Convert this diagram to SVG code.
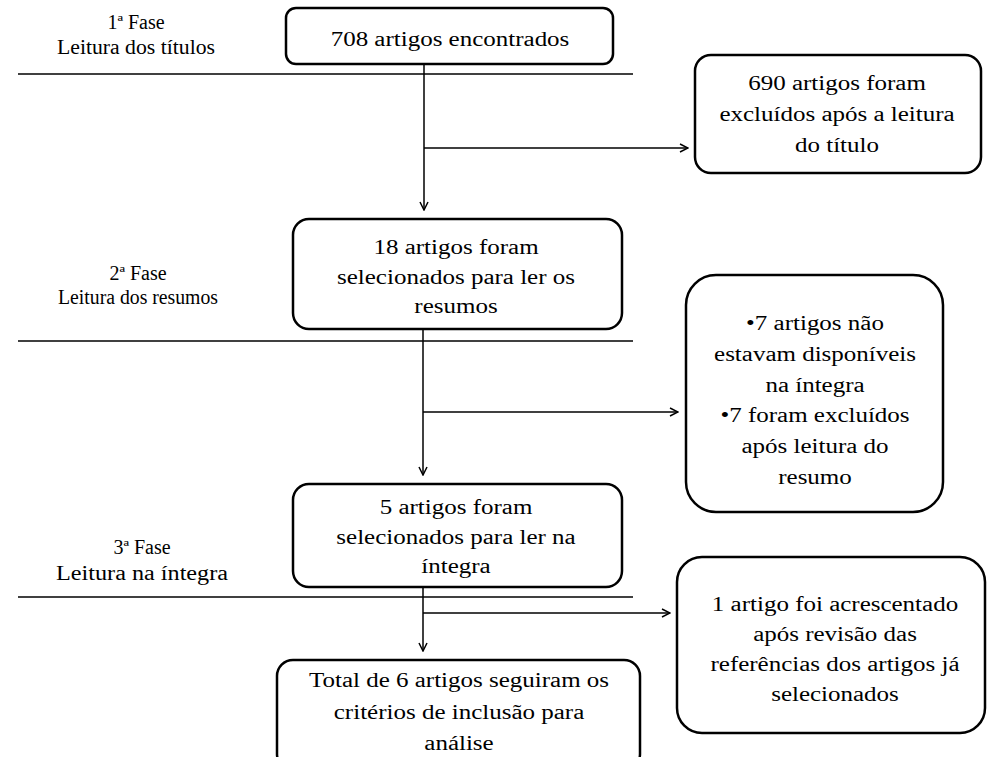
<svg xmlns="http://www.w3.org/2000/svg" width="988" height="757" viewBox="0 0 988 757">
<style>
  .box { fill: #ffffff; stroke: #000000; stroke-width: 2.5; }
  .t { font-family: "Liberation Serif", "Times New Roman", "DejaVu Serif", serif; font-size: 20px; fill: #000000; text-anchor: middle; }
  .ph { font-family: "Liberation Serif", "Times New Roman", "DejaVu Serif", serif; font-size: 20px; fill: #000000; text-anchor: middle; }
  .ln { stroke: #000000; stroke-width: 1.5; fill: none; }
</style>
<defs>
  <marker id="arr" viewBox="0 0 10 10" refX="9" refY="5" markerWidth="10" markerHeight="10" markerUnits="userSpaceOnUse" orient="auto">
    <path d="M1,1 L9,5 L1,9" fill="none" stroke="#000000" stroke-width="1.5"/>
  </marker>
</defs>
<rect width="988" height="757" fill="#ffffff"/>

<g id="phases">
  <text class="ph" x="136" y="29">1ª Fase</text>
  <text class="ph" x="136" y="54" textLength="158" lengthAdjust="spacingAndGlyphs">Leitura dos títulos</text>
  <text class="ph" x="138" y="280">2ª Fase</text>
  <text class="ph" x="138" y="304" textLength="160" lengthAdjust="spacingAndGlyphs">Leitura dos resumos</text>
  <text class="ph" x="142" y="554">3ª Fase</text>
  <text class="ph" x="142" y="580" textLength="172" lengthAdjust="spacingAndGlyphs">Leitura na íntegra</text>
  <line class="ln" x1="18" y1="74" x2="633" y2="74"/>
  <line class="ln" x1="18" y1="341" x2="633" y2="341"/>
  <line class="ln" x1="18" y1="597" x2="633" y2="597"/>
</g>

<g id="connectors">
  <line class="ln" x1="424" y1="64" x2="424" y2="210" marker-end="url(#arr)"/>
  <line class="ln" x1="424" y1="148" x2="688" y2="148" marker-end="url(#arr)"/>
  <line class="ln" x1="423" y1="329" x2="423" y2="475" marker-end="url(#arr)"/>
  <line class="ln" x1="423" y1="412" x2="678" y2="412" marker-end="url(#arr)"/>
  <line class="ln" x1="423" y1="587" x2="423" y2="651" marker-end="url(#arr)"/>
  <line class="ln" x1="423" y1="613" x2="670" y2="613" marker-end="url(#arr)"/>
</g>

<g id="n1">
  <rect class="box" x="286" y="8" width="327" height="56" rx="10"/>
  <text class="t" transform="translate(450 0) scale(1.25 1)" x="0" y="46">708 artigos encontrados</text>
</g>

<g id="n2">
  <rect class="box" x="695" y="55" width="286" height="118" rx="16"/>
  <g transform="translate(837 0) scale(1.25 1)">
    <text class="t" x="0" y="90">690 artigos foram</text>
    <text class="t" x="0" y="121">excluídos após a leitura</text>
    <text class="t" x="0" y="152">do título</text>
  </g>
</g>

<g id="n3">
  <rect class="box" x="293" y="219" width="329" height="110" rx="16"/>
  <g transform="translate(456 0) scale(1.25 1)">
    <text class="t" x="0" y="254">18 artigos foram</text>
    <text class="t" x="0" y="284">selecionados  para ler os</text>
    <text class="t" x="0" y="313">resumos</text>
  </g>
</g>

<g id="n4">
  <rect class="box" x="686" y="275" width="257" height="237" rx="30"/>
  <g transform="translate(815 0) scale(1.25 1)">
    <text class="t" x="0" y="330">•7 artigos não</text>
    <text class="t" x="0" y="361">estavam disponíveis</text>
    <text class="t" x="0" y="392">na íntegra</text>
    <text class="t" x="0" y="422">•7 foram excluídos</text>
    <text class="t" x="0" y="453">após leitura do</text>
    <text class="t" x="0" y="484">resumo</text>
  </g>
</g>

<g id="n5">
  <rect class="box" x="293" y="484" width="329" height="103" rx="16"/>
  <g transform="translate(456 0) scale(1.25 1)">
    <text class="t" x="0" y="514">5 artigos foram</text>
    <text class="t" x="0" y="544">selecionados  para ler na</text>
    <text class="t" x="0" y="573">íntegra</text>
  </g>
</g>

<g id="n6">
  <rect class="box" x="677" y="557" width="308" height="176" rx="25"/>
  <g transform="translate(835 0) scale(1.25 1)">
    <text class="t" x="0" y="611">1 artigo foi acrescentado</text>
    <text class="t" x="0" y="641">após revisão  das</text>
    <text class="t" x="0" y="671">referências dos artigos já</text>
    <text class="t" x="0" y="701">selecionados</text>
  </g>
</g>

<g id="n7">
  <rect class="box" x="277" y="660" width="363" height="110" rx="16"/>
  <g transform="translate(459 0) scale(1.25 1)">
    <text class="t" x="0" y="687">Total de 6 artigos seguiram  os</text>
    <text class="t" x="0" y="719">critérios de inclusão  para</text>
    <text class="t" x="0" y="750">análise</text>
  </g>
</g>
</svg>
